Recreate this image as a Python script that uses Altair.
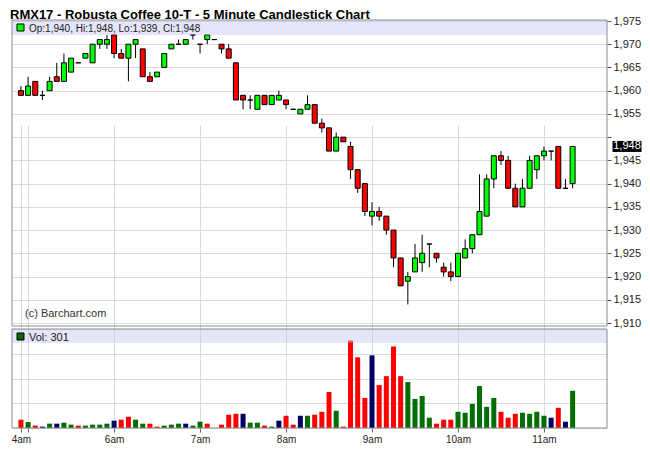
import altair as alt
import pandas as pd

# ---- data (5-minute bars, index-based time axis) ----
opens = [1960, 1959, 1962, 1959, 1960, 1963, 1962, 1964, 1966, 1967,
         1966, 1970, 1970, 1972, 1968, 1967, 1970, 1969, 1963, 1963,
         1965, 1969, 1970, 1970, 1972, 1970, 1971, 1971, 1970, 1969,
         1966, 1959, 1958, 1956, 1959, 1957, 1958, 1958, 1956, 1955,
         1956, 1957, 1953, 1952, 1947, 1950, 1948, 1943, 1940, 1933,
         1934, 1933, 1930, 1924, 1919, 1921, 1923, 1927, 1925, 1922,
         1921, 1920, 1924, 1926, 1929, 1933, 1941, 1946, 1945, 1939,
         1935, 1939, 1943, 1946, 1947, 1948, 1939, 1940]
highs = [1961, 1963, 1962, 1960, 1963, 1966, 1968, 1967, 1966, 1968,
         1970, 1971, 1972, 1972, 1969, 1970, 1971, 1969, 1964, 1964,
         1968, 1970, 1971, 1971, 1972, 1970, 1972, 1971, 1970, 1970,
         1966, 1959, 1959, 1959, 1959, 1959, 1960, 1958, 1956, 1956,
         1959, 1957, 1954, 1952, 1951, 1950, 1949, 1943, 1940, 1936,
         1935, 1933, 1930, 1924, 1921, 1927, 1929, 1927, 1925, 1923,
         1923, 1925, 1928, 1929, 1942, 1942, 1946, 1947, 1946, 1940,
         1941, 1946, 1946, 1948, 1947, 1948, 1941, 1948]
lows = [1959, 1959, 1959, 1958, 1960, 1962, 1962, 1964, 1966, 1967,
        1966, 1969, 1969, 1967, 1967, 1962, 1967, 1963, 1962, 1963,
        1965, 1969, 1970, 1970, 1971, 1968, 1970, 1971, 1968, 1967,
        1958, 1956, 1956, 1956, 1957, 1957, 1958, 1956, 1956, 1955,
        1956, 1953, 1951, 1947, 1947, 1949, 1941, 1938, 1933, 1931,
        1932, 1929, 1922, 1918, 1914, 1921, 1921, 1922, 1923, 1920,
        1919, 1920, 1924, 1925, 1929, 1933, 1939, 1944, 1939, 1935,
        1935, 1939, 1941, 1945, 1945, 1939, 1939, 1939]
closes = [1959, 1961, 1959, 1959, 1962, 1962, 1966, 1967, 1966, 1968,
          1970, 1971, 1971, 1968, 1967, 1970, 1971, 1963, 1962, 1964,
          1968, 1970, 1970, 1971, 1972, 1970, 1972, 1971, 1969, 1967,
          1958, 1958, 1958, 1959, 1957, 1959, 1959, 1957, 1956, 1956,
          1957, 1953, 1952, 1947, 1950, 1949, 1943, 1939, 1934, 1934,
          1933, 1930, 1924, 1918, 1920, 1924, 1925, 1927, 1924, 1921,
          1920, 1925, 1926, 1929, 1934, 1941, 1946, 1945, 1939, 1935,
          1939, 1945, 1946, 1947, 1947, 1939, 1939, 1948]
volumes = [67, 48, 19, 11, 35, 35, 43, 27, 19, 19,
           27, 27, 35, 59, 67, 91, 67, 35, 35, 11,
           19, 27, 35, 35, 19, 51, 35, 0, 27, 107,
           115, 115, 43, 43, 19, 11, 59, 99, 27, 99,
           99, 107, 131, 291, 139, 11, 707, 571, 243, 587,
           347, 419, 659, 419, 371, 235, 259, 83, 35, 67,
           67, 131, 123, 195, 339, 171, 243, 131, 83, 115,
           123, 115, 131, 99, 83, 163, 51, 301]
vol_dir = list("rgrngnggrg" "gggnrrggrr" "gggnggrgrr" "rnggrgnrrn"
               "grrrgrrrrn" "rrrrggggrr" "rggggggrrr" "ggggnrng")

hour_ticks = [0, 1, 13, 25, 37, 49, 61, 73]
hour_labels = ["4am", "", "6am", "7am", "8am", "9am", "10am", "11am"]
price_ticks = list(range(1910, 1976, 5))
vol_ticks = [0, 200, 400, 600, 800]

title_text = "RMX17 - Robusta Coffee 10-T - 5 Minute Candlestick Chart"
credit_text = "(c) Barchart.com"

# ---- table built from the arrays ----
n = len(closes)
df = pd.DataFrame({
    "i": list(range(n)),
    "open": opens, "high": highs, "low": lows, "close": closes,
    "volume": volumes,
    "vdir": [{"g": "up", "r": "down", "n": "unch"}[d] for d in vol_dir],
})
df["cdir"] = ["up" if c > o else ("down" if c < o else "flat")
              for o, c in zip(opens, closes)]

last = df.iloc[[-1]].copy()
last["label"] = f"{closes[-1]:,}"
fmt = lambda v: f"{v:,}"
price_legend = (f"Op:{fmt(opens[-1])}, Hi:{fmt(highs[-1])}, "
                f"Lo:{fmt(lows[-1])}, Cl:{fmt(closes[-1])}")
vol_legend = f"Vol: {volumes[-1]}"

# ---- layout (plot-area pixels) ----
W, H = 595, 408
P_TOP, P_BOT = 0, 306          # price panel frame
V_TOP, V_BOT = 309, 408        # volume panel frame
FONT = "Liberation Sans"

x_label_expr = " : ".join(f"datum.value == {t} ? '{l}'" for t, l in zip(hour_ticks, hour_labels)) + " : ''"
x_scale = alt.Scale(domain=[-0.55, 81.1], nice=False, zero=False)
x_axis = alt.Axis(values=hour_ticks, labelExpr=x_label_expr, grid=True,
                  gridColor="#DADADA", domain=False, tickColor="#666666",
                  tickSize=4, labelFont=FONT, labelFontSize=10,
                  labelColor="#222222", labelPadding=2, labelFlush=False,
                  labelOverlap=False, title=None)
x_enc = alt.X("i:Q", scale=x_scale, axis=x_axis)

price_scale = alt.Scale(domain=[1910, 1975], range=[303, 1], nice=False, zero=False)
vol_scale = alt.Scale(domain=[0, 800], range=[V_BOT, V_TOP], nice=False, zero=True)

base = alt.Chart(df)
one = alt.Chart(pd.DataFrame({"k": [0]}))

wicks = base.mark_rule(color="black", strokeWidth=1).encode(
    x=x_enc,
    y=alt.Y("low:Q", scale=price_scale,
            axis=alt.Axis(orient="right", values=price_ticks,
                          labelExpr="datum.value == 1950 ? '' : format(datum.value, ',')",
                          grid=True, gridColor="#DADADA", domain=False,
                          tickColor="#555555", tickSize=4, labelFont=FONT,
                          labelFontSize=11, labelColor="#222222", labelPadding=2,
                          labelOverlap=False, labelFlush=False, title=None)),
    y2="high:Q",
)

bodies = base.mark_bar(width=5, stroke="black", strokeWidth=1).encode(
    x=x_enc,
    y=alt.Y("open:Q", scale=price_scale, axis=None),
    y2="close:Q",
    color=alt.Color("cdir:N", legend=None,
                    scale=alt.Scale(domain=["up", "down", "flat"],
                                    range=["#00FF00", "#FF0000", "#000000"])),
)

vol = base.mark_bar(width=5).encode(
    x=x_enc,
    y=alt.Y("volume:Q", scale=vol_scale,
            axis=alt.Axis(orient="left", values=vol_ticks, grid=True,
                          gridColor="#DADADA", labels=False, ticks=False,
                          domain=False, title=None)),
    color=alt.Color("vdir:N", legend=None,
                    scale=alt.Scale(domain=["up", "down", "unch"],
                                    range=["#006E00", "#FF0000", "#000066"])),
)

bands = alt.layer(
    one.mark_rect(fill="#BEBEF0", opacity=0.4).encode(
        x=alt.value(0), x2=alt.value(W), y=alt.value(P_TOP), y2=alt.value(15)),
    one.mark_rect(fill="#BEBEF0", opacity=0.4).encode(
        x=alt.value(0), x2=alt.value(W), y=alt.value(V_TOP), y2=alt.value(323)),
)

frames = alt.layer(
    one.mark_rect(fill=None, stroke="#8C8C8C", strokeWidth=1).encode(
        x=alt.value(0), x2=alt.value(W), y=alt.value(P_TOP), y2=alt.value(P_BOT)),
    one.mark_rect(fill=None, stroke="#8C8C8C", strokeWidth=1).encode(
        x=alt.value(0), x2=alt.value(W), y=alt.value(V_TOP), y2=alt.value(V_BOT)),
)

texts = alt.layer(
    one.mark_text(align="left", baseline="alphabetic", font=FONT, fontSize=13,
                  fontWeight="bold", color="#000000", text=title_text).encode(
        x=alt.value(-2), y=alt.value(-1.2)),
    one.mark_rect(fill="#00FF00", stroke="black", strokeWidth=1).encode(
        x=alt.value(5), x2=alt.value(12), y=alt.value(4), y2=alt.value(11)),
    one.mark_text(align="left", baseline="alphabetic", font=FONT, fontSize=10,
                  color="#222222", text=price_legend).encode(
        x=alt.value(17), y=alt.value(11.5)),
    one.mark_rect(fill="#006E00", stroke="black", strokeWidth=1).encode(
        x=alt.value(5), x2=alt.value(12), y=alt.value(313), y2=alt.value(320)),
    one.mark_text(align="left", baseline="alphabetic", font=FONT, fontSize=11,
                  color="#222222", text=vol_legend).encode(
        x=alt.value(17), y=alt.value(320.5)),
    one.mark_text(align="left", baseline="alphabetic", font=FONT, fontSize=11,
                  color="#333333", text=credit_text).encode(
        x=alt.value(13), y=alt.value(297)),
)

last_box = alt.Chart(last).mark_tick(orient="horizontal", size=29, thickness=11,
                                     color="black", opacity=1).encode(
    x=alt.value(W + 20),
    y=alt.Y("close:Q", scale=price_scale, axis=None),
)
last_text = alt.Chart(last).mark_text(font=FONT, fontSize=11, color="white",
                                      baseline="middle", align="center").encode(
    x=alt.value(W + 20),
    y=alt.Y("close:Q", scale=price_scale, axis=None),
    text="label:N",
)

chart = alt.layer(
    wicks, bodies, vol, bands, frames, texts, last_box, last_text
).resolve_scale(
    y="independent", color="independent"
).resolve_axis(
    y="independent"
).properties(
    width=W, height=H,
    autosize=alt.AutoSizeParams(type="none"),
    padding={"left": 4, "top": 12, "right": 35, "bottom": 34},
).configure_view(stroke=None)

chart.save("out.html", embed_options={"renderer": "svg", "actions": False})
